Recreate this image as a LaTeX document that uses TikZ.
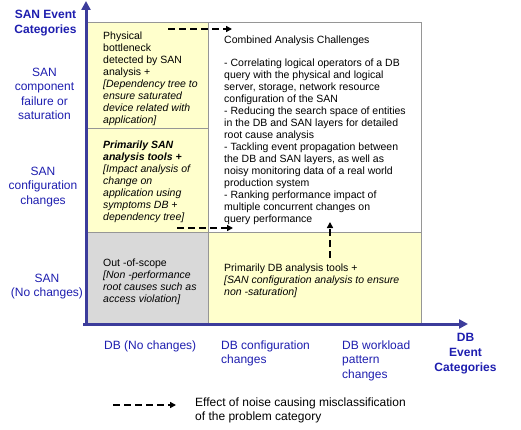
\documentclass[tikz,border=0pt]{standalone}
\usepackage{fontspec}
\setmainfont{Liberation Sans}
\usetikzlibrary{arrows,arrows.meta,calc,positioning}

\definecolor{axisblue}{RGB}{60,60,155}
\definecolor{labelblue}{RGB}{30,30,175}
\definecolor{cellyellow}{RGB}{255,255,204}
\definecolor{cellgrey}{RGB}{217,217,217}
\definecolor{gridgrey}{RGB}{150,150,150}

\tikzset{
  cell/.style={rectangle, draw=gridgrey, line width=0.8pt, anchor=north west, outer sep=0pt},
  celltext/.style={align=left, inner sep=0pt, font=\fontsize{10.5}{12}\selectfont},
  axislabel/.style={align=center, inner sep=0pt, text=labelblue, font=\fontsize{12}{14.5}\selectfont},
  axis/.style={draw=axisblue, line width=3pt, -{Triangle[width=9pt,length=9pt]}},
  noise/.style={line width=2pt, dash pattern=on 7pt off 4pt, -{Triangle[width=6pt,length=6pt]}}
}

\begin{document}
\begin{tikzpicture}[x=1pt,y=-1pt]
    \useasboundingbox (0,0) rectangle (521,430);
    % grid cells
    \node(phys) [cell, fill=cellyellow, minimum width=122pt, minimum height=106pt] at (86,22) {};
    \node(conf) [cell, fill=cellyellow, minimum width=122pt, minimum height=104pt, below=0pt of phys] {};
    \node(scope) [cell, fill=cellgrey, minimum width=122pt, minimum height=92pt, below=0pt of conf] {};
    \node(combo) [cell, fill=white, minimum width=213pt, minimum height=210pt] at (phys.north east) {};
    \node(dbtools) [cell, fill=cellyellow, minimum width=213pt, minimum height=92pt, below=0pt of combo] {};

    % cell texts
    \node(physTxt) [celltext, right=17pt of phys.west, yshift=-3.5pt] {Physical\\bottleneck\\detected by SAN\\analysis +\\\textit{[Dependency tree to}\\\textit{ensure saturated}\\\textit{device related with}\\\textit{application]}};
    \node(confTxt) [celltext, right=17pt of conf.west, yshift=-1.5pt] {\textbf{\textit{Primarily SAN}}\\\textbf{\textit{analysis tools +}}\\\textit{[Impact analysis of}\\\textit{change on}\\\textit{application using}\\\textit{symptoms DB +}\\\textit{dependency tree]}};
    \node(scopeTxt) [celltext, right=17pt of scope.west, yshift=-3.5pt] {Out -of-scope\\\textit{[Non -performance}\\\textit{root causes such as}\\\textit{access violation]}};
    \node(comboTxt) [celltext, right=16pt of combo.west, yshift=-3pt] {Combined Analysis Challenges\\[11pt]- Correlating logical operators of a DB\\query with the physical and logical\\server, storage, network resource\\configuration of the SAN\\- Reducing the search space of entities\\in the DB and SAN layers for detailed\\root cause analysis\\- Tackling event propagation between\\the DB and SAN layers, as well as\\noisy monitoring data of a real world\\production system\\- Ranking performance impact of\\multiple concurrent changes on\\query performance};
    \node(dbtoolsTxt) [celltext, right=16pt of dbtools.west, yshift=-2.5pt] {Primarily DB analysis tools +\\\textit{[SAN configuration analysis to ensure}\\\textit{non -saturation]}};

    % axes
    \coordinate(yfoot) at (86,325.5);
    \coordinate(ytip) at (86,1);
    \coordinate(xfoot) at (83,324);
    \coordinate(xtip) at (468,324);
    \draw[axis] (yfoot) -- (ytip);
    \draw[axis] (xfoot) -- (xtip);

    % axis labels
    \node(sanTitle) [axislabel, font=\fontsize{12}{15}\bfseries] at (45.5,23.5) {SAN Event\\Categories};
    \node(sanFail) [axislabel] at (44.5,94) {SAN\\component\\failure or\\saturation};
    \node(sanConf) [axislabel] at (43,187) {SAN\\configuration\\changes};
    \node(sanNone) [axislabel] at (47,286.5) {SAN\\(No changes)};
    \node(dbNone) [axislabel, align=left, anchor=west] at (104,346) {DB (No changes)};
    \node(dbConf) [axislabel, align=left, anchor=west] at (221,353.5) {DB configuration\\changes};
    \node(dbLoad) [axislabel, align=left, anchor=west] at (342,360.5) {DB workload\\pattern\\changes};
    \node(dbTitle) [axislabel, font=\fontsize{12}{15}\bfseries] at (465.5,354) {DB\\Event\\Categories};

    % noise arrows
    \coordinate(noiseTopA) at (168,29);
    \coordinate(noiseTopB) at (232,29);
    \coordinate(noiseMidA) at (177,228);
    \coordinate(noiseMidB) at (233,228);
    \coordinate(noiseUpA) at (330,258);
    \coordinate(noiseUpB) at (330,222);
    \draw[noise] (noiseTopA) -- (noiseTopB);
    \draw[noise] (noiseMidA) -- (noiseMidB);
    \draw[noise] (noiseUpA) -- (noiseUpB);

    % legend
    \coordinate(legendA) at (113,405);
    \coordinate(legendB) at (176,405);
    \draw[noise] (legendA) -- (legendB);
    \node(legendTxt) [align=left, inner sep=0pt, font=\fontsize{12}{14}\selectfont, anchor=west] at (195,410) {Effect of noise causing misclassification\\of the problem category};
\end{tikzpicture}
\end{document}
